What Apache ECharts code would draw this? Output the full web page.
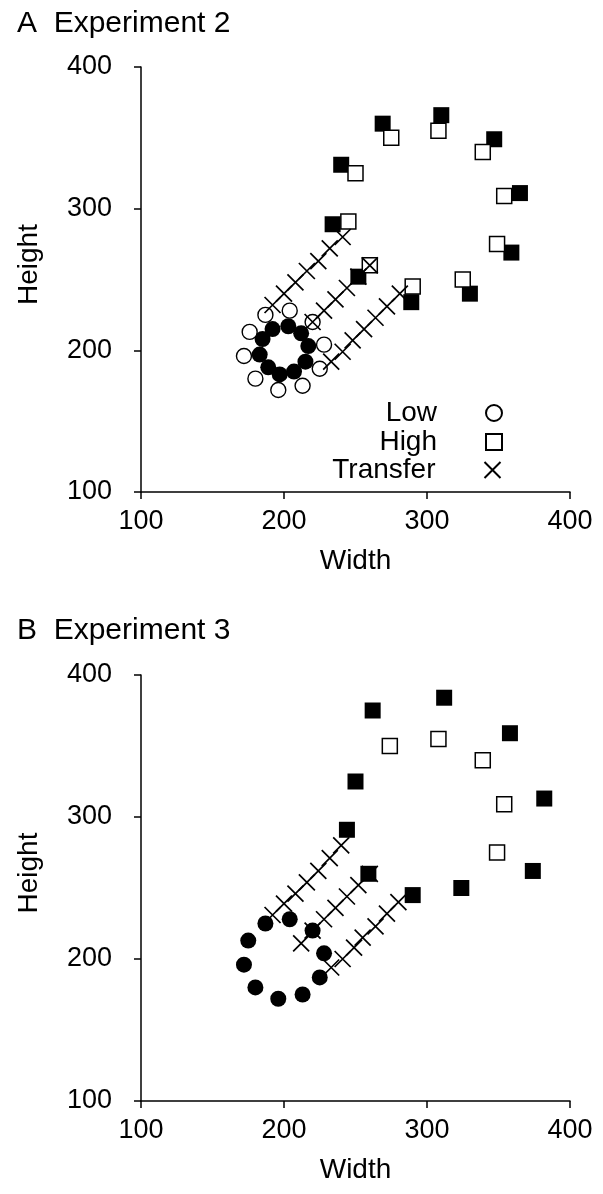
<!DOCTYPE html>
<html>
<head>
<meta charset="utf-8">
<script src="https://cdn.jsdelivr.net/npm/echarts@6/dist/echarts.min.js"></script>
<style>
html,body{margin:0;padding:0;background:#fff;}
#chart{width:603px;height:1194px;}
</style>
</head>
<body>
<div id="chart"></div>
<script>
// ---------- Data ----------
const axisTicks = [100, 200, 300, 400];

// Panel A: Experiment 2  ([width, height])
const lowTrainA = [[187,225],[204,228],[176,213],[220,220],[228,204],[172,196],[225,187],[180,180],[213,175],[196,172]];
const lowTestA = [[192,215],[203,217],[212,212],[185,208],[217,203],[183,197],[215,192],[189,188],[207,185],[197,183]];
const highTrainA = [[250,325],[245,291],[260,260],[275,350],[308,355],[339,340],[354,309],[349,275],[325,250],[290,245]];
const highTestA = [[240,331],[234,289],[252,252],[269,360],[310,366],[347,349],[365,311],[359,269],[330,240],[289,234]];
const transferUpperA = [[192,232],[200,240],[208,248],[216,256],[224,263],[232,272],[241,280]];
const transferMiddleA = [[220,220],[228,228],[236,236],[244,244],[252,252],[260,260]];
const transferLowerA = [[233,192],[241,199],[248,207],[256,215],[264,223],[272,231],[281,240]];

// Panel B: Experiment 3
const lowB = [[187,225],[204,228],[175,213],[220,220],[228,204],[172,196],[225,187],[180,180],[213,175],[196,172]];
const highFilledB = [[244,291],[250,325],[259,260],[290,245],[324,250],[262,375],[312,384],[358,359],[382,313],[374,262]];
const highOpenB = [[274,350],[308,355],[339,340],[354,309],[349,275]];
const transferUpperB = [[192,231],[200,239],[208,246],[216,254],[224,262],[232,271],[240,280]];
const transferMiddleB = [[212,211],[220,220],[228,228],[236,236],[244,244],[252,252],[260,260]];
const transferLowerB = [[233,194],[241,200],[249,208],[255,215],[264,223],[272,232],[280,240]];

const panelTitles = ['A  Experiment 2', 'B  Experiment 3'];
const legendNames = ['Low', 'High', 'Transfer'];

// ---------- Styling ----------
const FONT = '"Liberation Sans", Arial, Helvetica, sans-serif';
const X_PATH = 'path://M0,0L16,16M16,0L0,16';

function xAxisFor(gridIndex) {
  return {
    gridIndex, type: 'value', min: axisTicks[0], max: axisTicks[axisTicks.length - 1], interval: 100,
    name: 'Width', nameLocation: 'middle', nameGap: 55,
    nameTextStyle: { fontSize: 28, color: '#000', fontFamily: FONT },
    axisLine: { show: true, onZero: false, lineStyle: { color: '#000', width: 1.5 } },
    axisTick: { show: true, inside: false, length: 7, lineStyle: { color: '#000', width: 1.5 } },
    axisLabel: { fontSize: 27, color: '#000', fontFamily: FONT, margin: 16 },
    splitLine: { show: false }
  };
}
function yAxisFor(gridIndex) {
  return {
    gridIndex, type: 'value', min: axisTicks[0], max: axisTicks[axisTicks.length - 1], interval: 100,
    name: 'Height', nameLocation: 'middle', nameGap: 98,
    nameTextStyle: { fontSize: 28, color: '#000', fontFamily: FONT, padding: [0, 0, 0, 30] },
    axisLine: { show: true, onZero: false, lineStyle: { color: '#000', width: 1.5 } },
    axisTick: { show: true, inside: false, length: 7, lineStyle: { color: '#000', width: 1.5 } },
    axisLabel: { fontSize: 27, color: '#000', fontFamily: FONT, margin: 29 },
    splitLine: { show: false }
  };
}
const filledCircle = { symbol: 'circle', symbolSize: 16, itemStyle: { color: '#000', opacity: 1 } };
const openCircle = { symbol: 'circle', symbolSize: 15, itemStyle: { color: '#fff', borderColor: '#000', borderWidth: 1.4, opacity: 1 } };
const filledSquare = { symbol: 'rect', symbolSize: 16, itemStyle: { color: '#000', opacity: 1 } };
const openSquare = { symbol: 'rect', symbolSize: 15, itemStyle: { color: '#fff', borderColor: '#000', borderWidth: 1.5, opacity: 1 } };
const crossMark = { symbol: X_PATH, symbolSize: 16, itemStyle: { color: 'none', borderColor: '#000', borderWidth: 1.7, opacity: 1 } };

function scatter(name, data, style, axisIdx, z) {
  return Object.assign({ type: 'scatter', name, data, xAxisIndex: axisIdx, yAxisIndex: axisIdx, z, silent: true, animation: false }, style);
}

const series = [
  // Panel A
  scatter('Low (test)', lowTestA, filledCircle, 0, 2),
  scatter('Low', lowTrainA, openCircle, 0, 3),
  scatter('High (test)', highTestA, filledSquare, 0, 2),
  scatter('High', highTrainA, openSquare, 0, 3),
  scatter('Transfer', transferUpperA, crossMark, 0, 4),
  scatter('Transfer', transferMiddleA, crossMark, 0, 4),
  scatter('Transfer', transferLowerA, crossMark, 0, 4),
  // Panel B
  scatter('Low B', lowB, filledCircle, 1, 2),
  scatter('High B (filled)', highFilledB, filledSquare, 1, 2),
  scatter('High B (open)', highOpenB, openSquare, 1, 3),
  scatter('Transfer B', transferUpperB, crossMark, 1, 4),
  scatter('Transfer B', transferMiddleB, crossMark, 1, 4),
  scatter('Transfer B', transferLowerB, crossMark, 1, 4)
];

const legendCenters = [413, 442, 470];
const legends = legendNames.map((nm, i) => ({
  data: [nm], orient: 'vertical', right: 100, top: legendCenters[i] - 14,
  itemWidth: 16, itemHeight: 16, itemGap: 0, padding: 0, align: 'right',
  selectedMode: false,
  textStyle: { fontSize: 28, color: '#000', fontFamily: FONT, padding: [0, 44, 0, 0] }
}));

const titleStyle = { fontSize: 30, fontWeight: 'normal', color: '#000', fontFamily: FONT };
const option = {
  backgroundColor: '#fff',
  animation: false,
  title: [
    { text: panelTitles[0], left: 12, top: 4, textStyle: titleStyle },
    { text: panelTitles[1], left: 12, top: 611, textStyle: titleStyle }
  ],
  legend: legends,
  grid: [
    { left: 141, right: 33, top: 67, height: 425 },
    { left: 141, right: 33, top: 675, height: 426 }
  ],
  xAxis: [xAxisFor(0), xAxisFor(1)],
  yAxis: [yAxisFor(0), yAxisFor(1)],
  series
};

const chart = echarts.init(document.getElementById('chart'), null, { renderer: 'canvas' });
chart.setOption(option);
</script>
</body>
</html>
